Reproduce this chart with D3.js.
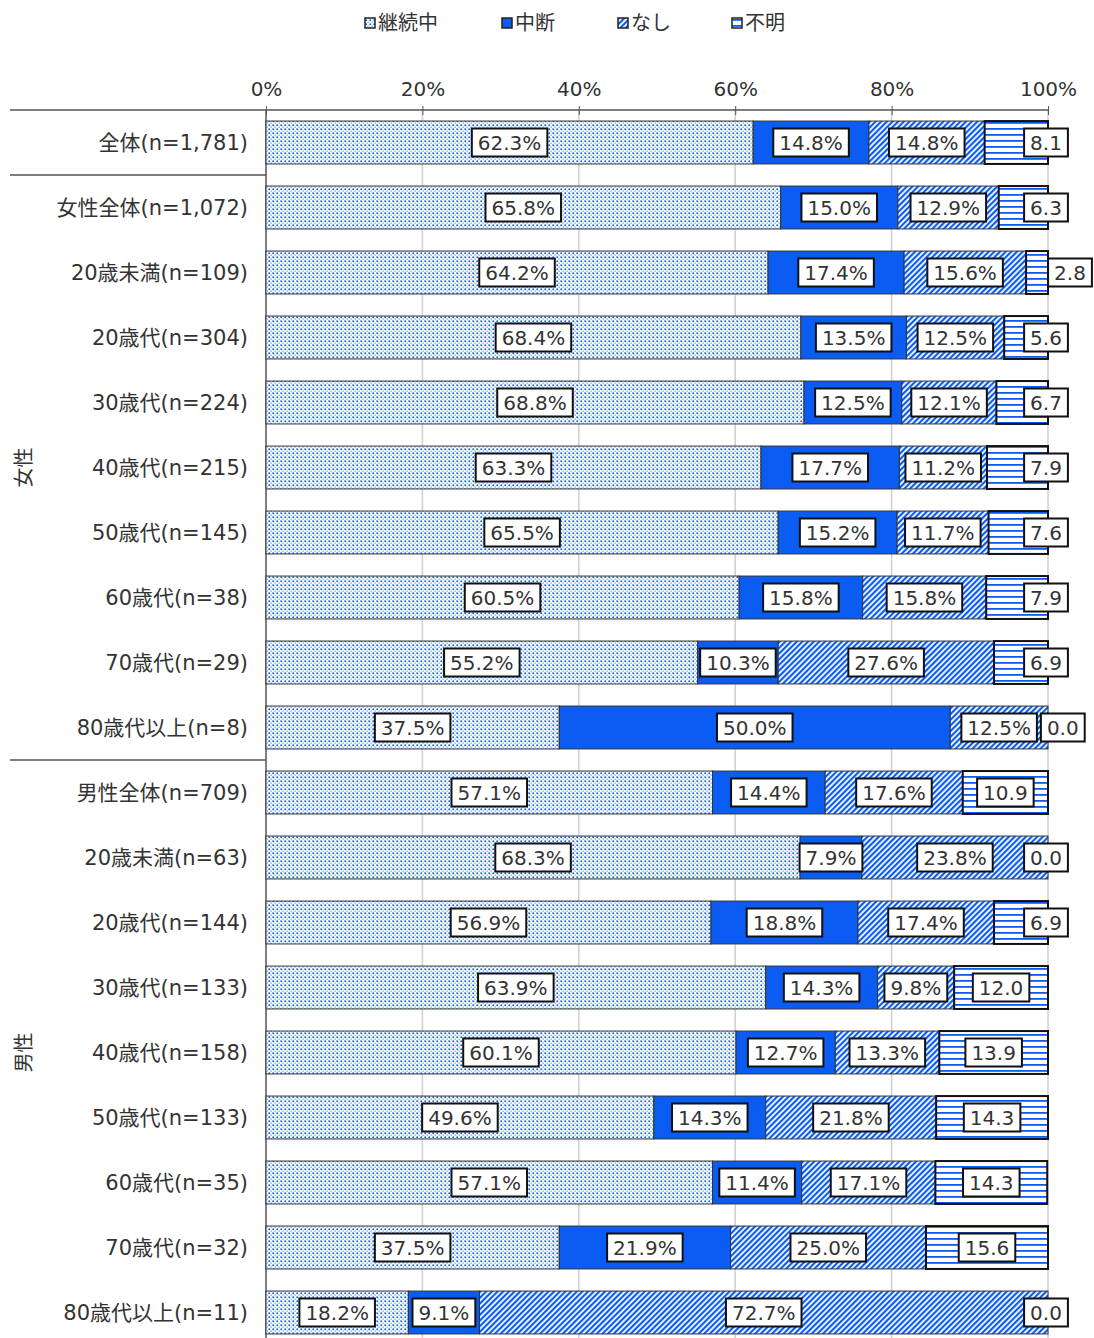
<!DOCTYPE html>
<html>
<head>
<meta charset="utf-8">
<script src="https://cdn.jsdelivr.net/npm/d3@7"></script>
<style>
  body { margin: 0; background: #fff; }
  text { font-family: "DejaVu Sans", "Noto Sans CJK JP", sans-serif; }
</style>
</head>
<body>
<div id="chart"></div>
<script>
// data
var categories = [
  "全体(n=1,781)",
  "女性全体(n=1,072)", "20歳未満(n=109)", "20歳代(n=304)", "30歳代(n=224)",
  "40歳代(n=215)", "50歳代(n=145)", "60歳代(n=38)", "70歳代(n=29)", "80歳代以上(n=8)",
  "男性全体(n=709)", "20歳未満(n=63)", "20歳代(n=144)", "30歳代(n=133)",
  "40歳代(n=158)", "50歳代(n=133)", "60歳代(n=35)", "70歳代(n=32)", "80歳代以上(n=11)"
];
var seriesNames = ["継続中", "中断", "なし", "不明"];
var keizoku = [62.3, 65.8, 64.2, 68.4, 68.8, 63.3, 65.5, 60.5, 55.2, 37.5, 57.1, 68.3, 56.9, 63.9, 60.1, 49.6, 57.1, 37.5, 18.2];
var chudan  = [14.8, 15.0, 17.4, 13.5, 12.5, 17.7, 15.2, 15.8, 10.3, 50.0, 14.4, 7.9, 18.8, 14.3, 12.7, 14.3, 11.4, 21.9, 9.1];
var nashi   = [14.8, 12.9, 15.6, 12.5, 12.1, 11.2, 11.7, 15.8, 27.6, 12.5, 17.6, 23.8, 17.4, 9.8, 13.3, 21.8, 17.1, 25.0, 72.7];
var fumei   = [8.1, 6.3, 2.8, 5.6, 6.7, 7.9, 7.6, 7.9, 6.9, 0.0, 10.9, 0.0, 6.9, 12.0, 13.9, 14.3, 14.3, 15.6, 0.0];
var ticks = [0, 20, 40, 60, 80, 100];
var groups = [
  { name: "女性", from: 1, to: 9 },
  { name: "男性", from: 10, to: 18 }
];

var W = 1094, H = 1338;
var blue = "#0b5cf2";

var svg = d3.select("#chart").append("svg")
  .attr("width", W).attr("height", H);

// patterns
var defs = svg.append("defs");
var pDot = defs.append("pattern").attr("id", "pDot")
  .attr("patternUnits", "userSpaceOnUse").attr("width", 4).attr("height", 4);
pDot.append("rect").attr("width", 4).attr("height", 4).attr("fill", "#fff");
pDot.append("rect").attr("x", 0.4).attr("y", 0.4).attr("width", 1.7).attr("height", 1.7).attr("fill", blue);
pDot.append("rect").attr("x", 2.5).attr("y", 2.5).attr("width", 1.3).attr("height", 1.3).attr("fill", blue).attr("opacity", 0.6);

var pDiag = defs.append("pattern").attr("id", "pDiag")
  .attr("patternUnits", "userSpaceOnUse").attr("width", 4).attr("height", 4)
  .attr("patternTransform", "rotate(45)");
pDiag.append("rect").attr("width", 4).attr("height", 4).attr("fill", "#fff");
pDiag.append("rect").attr("width", 2.2).attr("height", 4).attr("fill", blue);

var pHor = defs.append("pattern").attr("id", "pHor")
  .attr("patternUnits", "userSpaceOnUse").attr("width", 8).attr("height", 6);
pHor.append("rect").attr("width", 8).attr("height", 6).attr("fill", "#fff");
pHor.append("rect").attr("y", 2).attr("width", 8).attr("height", 1.8).attr("fill", blue);

var fills = ["url(#pDot)", blue, "url(#pDiag)", "url(#pHor)"];

// scales
var x = d3.scaleLinear().domain([0, 100]).range([266, 1048]);
var y = d3.scaleBand().domain(d3.range(categories.length))
  .range([110, 110 + 65 * categories.length])
  .paddingInner(0.34).paddingOuter(0.17);

// gridlines
svg.append("g").selectAll("line").data(ticks.slice(1)).join("line")
  .attr("x1", d => x(d)).attr("x2", d => x(d))
  .attr("y1", 110).attr("y2", H)
  .attr("stroke", "#cfcfcf").attr("stroke-width", 1.5);

// top axis
var axis = svg.append("g").attr("transform", "translate(0,110)")
  .call(d3.axisTop(x).tickValues(ticks).tickFormat(d => d + "%").tickSize(5).tickPadding(9));
axis.select(".domain").remove();
axis.selectAll(".tick line").attr("stroke", "#555").attr("y2", 5).attr("y1", -4);
axis.selectAll("text").attr("font-size", 20).attr("fill", "#333")
  .style("font-family", '"DejaVu Sans", "Noto Sans CJK JP", sans-serif');

// frame lines
svg.append("line").attr("x1", 10).attr("x2", x(100)).attr("y1", 110).attr("y2", 110)
  .attr("stroke", "#555").attr("stroke-width", 1.5);
svg.append("line").attr("x1", x(0)).attr("x2", x(0)).attr("y1", 110).attr("y2", H)
  .attr("stroke", "#555").attr("stroke-width", 1.5);
var seps = [1, 10].map(i => y(i) - y.step() * y.paddingInner() / 2);
svg.append("g").selectAll("line").data(seps).join("line")
  .attr("x1", 10).attr("x2", x(0)).attr("y1", d => d).attr("y2", d => d)
  .attr("stroke", "#555").attr("stroke-width", 1.5);

// category labels
svg.append("g").selectAll("text").data(categories).join("text")
  .attr("x", 248).attr("y", (d, i) => y(i) + y.bandwidth() / 2)
  .attr("dy", "0.35em").attr("text-anchor", "end")
  .attr("font-size", 21).attr("fill", "#333").text(d => d);

// group labels (rotated)
svg.append("g").selectAll("text").data(groups).join("text")
  .attr("transform", d => {
    var cy = (y(d.from) + y(d.to) + y.bandwidth()) / 2;
    return "translate(24," + cy + ") rotate(-90)";
  })
  .attr("dy", "0.35em").attr("text-anchor", "middle")
  .attr("font-size", 20).attr("fill", "#333").text(d => d.name);

// stacked rows
var rows = categories.map((c, i) => {
  var vals = [keizoku[i], chudan[i], nashi[i], fumei[i]];
  var acc = 0;
  return vals.map((v, k) => {
    var s = { row: i, k: k, v: v, x0: acc, x1: Math.min(acc + v, 100) };
    acc += v;
    return s;
  });
});
var segs = rows.flat();

var barG = svg.append("g");
barG.selectAll("rect").data(segs).join("rect")
  .attr("x", d => x(d.x0)).attr("width", d => Math.max(0, x(d.x1) - x(d.x0)))
  .attr("y", d => y(d.row)).attr("height", y.bandwidth())
  .attr("fill", d => fills[d.k])
  .attr("stroke", d => d.k === 3 ? "#111" : "#333")
  .attr("stroke-width", d => d.k === 3 ? 2 : 1);

// value labels with boxes
var labG = svg.append("g");
rows.forEach(row => {
  var prevRight = -Infinity;
  row.forEach(d => {
    var txt = d.k === 3 ? d.v.toFixed(1) : d.v.toFixed(1) + "%";
    var cx = (x(d.x0) + x(d.x1)) / 2;
    if (d.k === 3 && d.v < 10) cx = x(100) - 2;
    if (d.k === 3 && d.v > 0 && d.v < 3) cx = x(100) + 22;
    var cy = y(d.row) + y.bandwidth() / 2;
    var g = labG.append("g");
    var t = g.append("text").attr("text-anchor", "middle").attr("dy", "0.35em")
      .attr("font-size", 20).attr("fill", "#333").text(txt);
    var w = t.node().getComputedTextLength() + 12;
    if (cx - w / 2 < prevRight + 4) cx = prevRight + 4 + w / 2;
    prevRight = cx + w / 2;
    t.attr("x", cx).attr("y", cy);
    g.insert("rect", "text")
      .attr("x", cx - w / 2).attr("y", cy - 14).attr("width", w).attr("height", 28)
      .attr("fill", "#fff").attr("stroke", "#111").attr("stroke-width", 2);
  });
});

// legend
var legX = [365, 502, 618, 732];
var leg = svg.append("g").selectAll("g").data(seriesNames).join("g")
  .attr("transform", (d, i) => "translate(" + legX[i] + ",23)");
leg.append("rect").attr("x", 0).attr("y", -5).attr("width", 10).attr("height", 10)
  .attr("fill", (d, i) => fills[i]).attr("stroke", "#222").attr("stroke-width", 1.5);
leg.append("text").attr("x", 13).attr("dy", "0.35em")
  .attr("font-size", 20).attr("fill", "#333").text(d => d);
</script>
</body>
</html>
